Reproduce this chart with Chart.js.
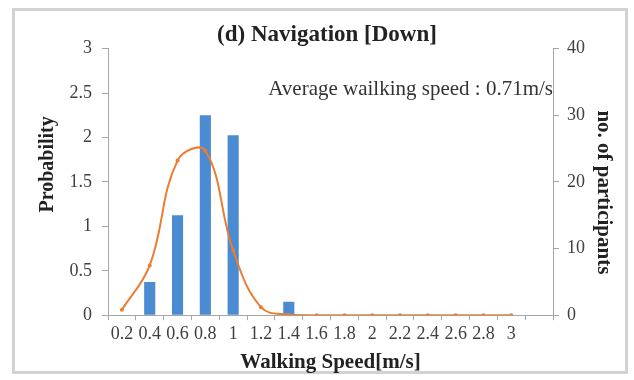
<!DOCTYPE html>
<html>
<head>
<meta charset="utf-8">
<script src="https://cdn.jsdelivr.net/npm/chart.js@4"></script>
<style>
  body { margin: 0; background: #fff; }
  canvas { display: block; }
</style>
</head>
<body>
<canvas id="speedChart" width="634" height="380"></canvas>
<script>
// walking speed categories (last one is the empty slot after 3)
const speeds = ["0.2", "0.4", "0.6", "0.8", "1", "1.2", "1.4", "1.6", "1.8", "2", "2.2", "2.4", "2.6", "2.8", "3", ""];
// no. of participants per speed (bars, right axis)
const participants = [0, 5, 15, 30, 27, 0, 2, 0, 0, 0, 0, 0, 0, 0, 0, null];
// probability curve (line, left axis)
const probability = [0.06, 0.56, 1.74, 1.85, 0.73, 0.09, 0.005, 0, 0, 0, 0, 0, 0, 0, 0, null];

// tick labels as printed on the two value axes
const probTicks = ["0", "0.5", "1", "1.5", "2", "2.5", "3"];
const countTicks = ["0", "10", "20", "30", "40"];

const avgText = "Average wailking speed : 0.71m/s";

const serif = "'Liberation Serif', 'Times New Roman', serif";
const axisGray = "#a6a6a6";
const tickColor = "#404040";

// white page with the light grey frame round the chart
const frame = {
    id: "frame",
    beforeDraw(chart) {
        const c = chart.ctx;
        c.save();
        c.fillStyle = "#fff";
        c.fillRect(0, 0, chart.width, chart.height);
        c.strokeStyle = "#d2d2d2";
        c.lineWidth = 3;
        c.strokeRect(13.5, 9.5, 613, 363);
        c.restore();
    }
};

// the note in the upper right of the plot
const note = {
    id: "note",
    afterDraw(chart) {
        const c = chart.ctx;
        const area = chart.chartArea;
        c.save();
        c.font = "21px " + serif;
        c.fillStyle = "#333";
        c.textAlign = "right";
        c.textBaseline = "middle";
        c.fillText(avgText, area.right, area.top + 41);
        c.restore();
    }
};

new Chart(document.getElementById("speedChart"), {
    type: "bar",
    data: {
        labels: speeds,
        datasets: [{
            type: "line",
            label: "Probability",
            data: probability,
            yAxisID: "y",
            borderColor: "#ec7c30",
            backgroundColor: "#ec7c30",
            borderWidth: 2,
            pointRadius: 2,
            pointBorderWidth: 0,
            tension: 0.4,
            fill: false
        }, {
            label: "no. of participants",
            data: participants,
            yAxisID: "y1",
            backgroundColor: "#4a8bd2",
            categoryPercentage: 1,
            barPercentage: 0.4
        }]
    },
    options: {
        responsive: false,
        animation: false,
        devicePixelRatio: 1,
        layout: {
            padding: { left: 30, right: 10, top: 21, bottom: 2 }
        },
        plugins: {
            legend: { display: false },
            tooltip: { enabled: false },
            title: {
                display: true,
                text: "(d) Navigation [Down]",
                color: "#222",
                font: { family: serif, size: 23, weight: "bold" },
                padding: 0
            }
        },
        scales: {
            x: {
                grid: {
                    offset: true,
                    drawOnChartArea: false,
                    tickLength: 5,
                    color: axisGray
                },
                border: { color: axisGray },
                ticks: {
                    color: tickColor,
                    font: { family: serif, size: 18 },
                    autoSkip: false,
                    maxRotation: 0,
                    padding: 3
                },
                title: {
                    display: true,
                    text: "Walking Speed[m/s]",
                    color: "#222",
                    font: { family: serif, size: 21, weight: "bold" },
                    padding: { top: 2, bottom: 3 }
                }
            },
            y: {
                position: "left",
                min: 0,
                max: 3,
                afterFit(scale) { scale.width = 78; },
                grid: {
                    drawOnChartArea: false,
                    tickLength: 6,
                    color: axisGray
                },
                border: { color: axisGray },
                ticks: {
                    stepSize: 0.5,
                    color: tickColor,
                    font: { family: serif, size: 18 },
                    padding: 10,
                    callback: (v, i) => probTicks[i]
                },
                title: {
                    display: true,
                    text: "       Probability",
                    color: "#222",
                    font: { family: serif, size: 20, weight: "bold" },
                    padding: { top: 6, bottom: 0 }
                }
            },
            y1: {
                position: "right",
                min: 0,
                max: 40,
                afterFit(scale) { scale.width = 71; },
                grid: {
                    drawOnChartArea: false,
                    tickLength: 6,
                    color: axisGray
                },
                border: { color: axisGray },
                ticks: {
                    stepSize: 10,
                    color: tickColor,
                    font: { family: serif, size: 18 },
                    padding: 8,
                    callback: (v, i) => countTicks[i]
                },
                title: {
                    display: true,
                    text: "    no. of participants",
                    color: "#222",
                    font: { family: serif, size: 21, weight: "bold" },
                    padding: { top: 8, bottom: 0 }
                }
            }
        }
    },
    plugins: [frame, note]
});
</script>
</body>
</html>
